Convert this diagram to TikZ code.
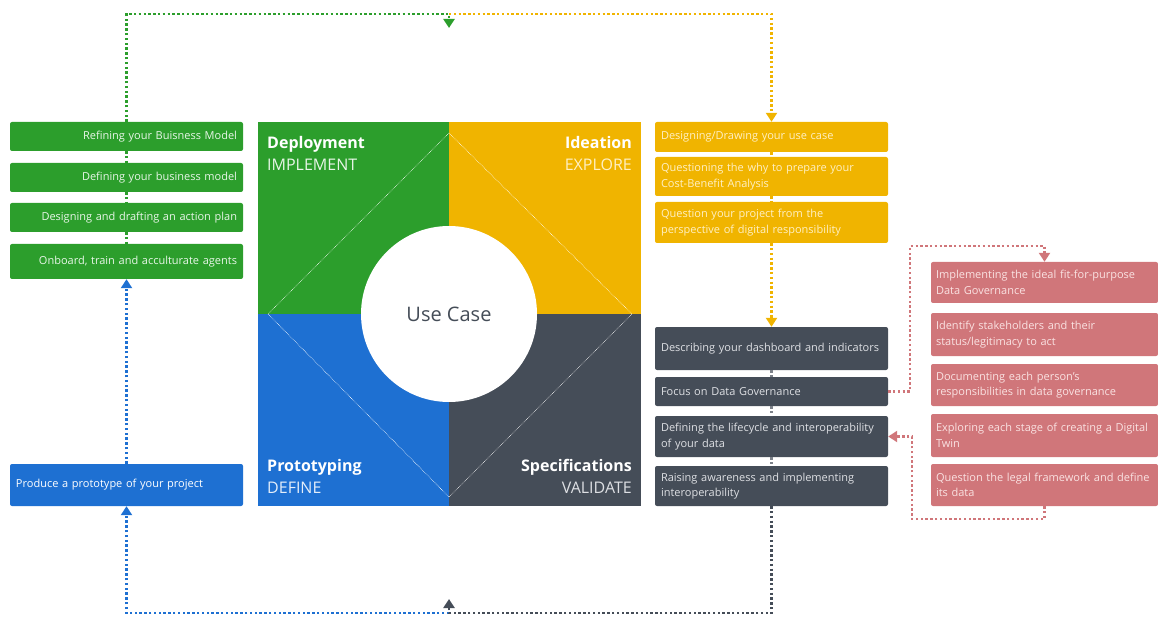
\documentclass[tikz,border=0pt]{standalone}
\usepackage{fontspec}
\setmainfont{Open Sans}
\usepackage{tikz}
\usetikzlibrary{arrows.meta}

\definecolor{dgreen}{RGB}{44,158,44}
\definecolor{dyellow}{RGB}{240,180,0}
\definecolor{dblue}{RGB}{30,112,210}
\definecolor{ddark}{RGB}{69,77,88}
\definecolor{dred}{RGB}{208,118,122}
\definecolor{tgreen}{RGB}{232,246,232}
\definecolor{tyellow}{RGB}{255,240,196}
\definecolor{tdark}{RGB}{222,224,228}
\definecolor{tred}{RGB}{250,226,226}

\tikzset{
  stepbox/.style={rounded corners=2pt, inner sep=6pt, text width=221pt,
    font=\fontsize{11}{15.5}\selectfont},
  greenbox/.style={stepbox, fill=dgreen, text=tgreen, align=right},
  bluebox/.style={stepbox, fill=dblue, text=white, align=left},
  yellowbox/.style={stepbox, fill=dyellow, text=tyellow, align=left},
  darkbox/.style={stepbox, fill=ddark, text=tdark, align=left},
  redbox/.style={stepbox, fill=dred, text=tred, align=left, text width=217pt, inner sep=5pt},
  dots/.style={line width=2.6pt, dash pattern=on 2.4pt off 2.4pt},
  flow/.style={dots, -{Triangle[width=11pt,length=9pt]}},
  phase/.style={font=\fontsize{16}{18}\selectfont\bfseries, inner sep=0pt},
  verb/.style={font=\fontsize{16}{18}\selectfont, inner sep=0pt}
}

\begin{document}
\begin{tikzpicture}[x=1pt,y=1pt,yscale=-1]
\useasboundingbox (0,0) rectangle (1158,617);

%Shape: quadrants
\fill[dgreen] (258,122) rectangle (449,314);
\fill[dyellow] (449,122) rectangle (641,314);
\fill[dblue] (258,314) rectangle (449,506);
\fill[ddark] (449,314) rectangle (641,506);
%Shape: diamond
\coordinate (dtop) at (449,133);
\coordinate (dright) at (632,314);
\coordinate (dbottom) at (449,497);
\coordinate (dleft) at (268,314);
\draw[white, line width=0.6pt, densely dotted] (dtop) -- (dright) -- (dbottom) -- (dleft) -- cycle;
%Shape: Circle
\node[circle, fill=white, minimum size=176pt, inner sep=0pt, text=ddark,
  font=\fontsize{20}{22}\selectfont] (usecase) at (449,314) {Use Case};

% Text Node
\node[phase, text=white, anchor=base west] (deploy) at (267,149) {Deployment};
\node[verb, text=tgreen, anchor=base west] (implement) at (267,171) {IMPLEMENT};
\node[phase, text=white, anchor=base east] (ideation) at (632,149) {Ideation};
\node[verb, text=tyellow, anchor=base east] (explore) at (632,171) {EXPLORE};
\node[phase, text=white, anchor=base west] (proto) at (267,471) {Prototyping};
\node[verb, text=white!88!dblue, anchor=base west] (define) at (267,493) {DEFINE};
\node[phase, text=white, anchor=base east] (specs) at (632,471) {Specifications};
\node[verb, text=tdark, anchor=base east] (validate) at (632,493) {VALIDATE};

% Deployment steps
\node[greenbox, minimum height=29pt] (g1) at (126.5,136.5) {Refining your Buisness Model};
\node[greenbox, minimum height=29pt] (g2) at (126.5,177.5) {Defining your business model};
\node[greenbox, minimum height=29pt] (g3) at (126.5,217.5) {Designing and drafting an action plan};
\node[greenbox, minimum height=35pt] (g4) at (126.5,261.5) {Onboard, train and acculturate agents};
% Prototyping step
\node[bluebox, minimum height=42pt] (b1) at (126.5,485) {Produce a prototype of your project};
% Ideation steps
\node[yellowbox, minimum height=30pt] (y1) at (771.5,137) {Designing/Drawing your use case};
\node[yellowbox, minimum height=39pt] (y2) at (771.5,176.5) {Questioning the why to prepare your\\Cost-Benefit Analysis};
\node[yellowbox, minimum height=41pt] (y3) at (771.5,222.5) {Question your project from the\\perspective of digital responsibility};
% Specifications steps
\node[darkbox, minimum height=43pt] (d1) at (771.5,348.5) {Describing your dashboard and indicators};
\node[darkbox, minimum height=29pt] (d2) at (771.5,391.5) {Focus on Data Governance};
\node[darkbox, minimum height=41pt] (d3) at (771.5,436.5) {Defining the lifecycle and interoperability\\of your data};
\node[darkbox, minimum height=40pt] (d4) at (771.5,486) {Raising awareness and implementing\\interoperability};
% Data Governance steps
\node[redbox, minimum height=41pt] (r1) at (1044.5,282.5) {Implementing the ideal fit-for-purpose\\Data Governance};
\node[redbox, minimum height=43pt] (r2) at (1044.5,334.5) {Identify stakeholders and their\\status/legitimacy to act};
\node[redbox, minimum height=42pt] (r3) at (1044.5,385) {Documenting each person's\\responsibilities in data governance};
\node[redbox, minimum height=43pt] (r4) at (1044.5,435.5) {Exploring each stage of creating a Digital\\Twin};
\node[redbox, minimum height=42pt] (r5) at (1044.5,485) {Question the legal framework and define\\its data};

% Connection
\coordinate (top) at (449,14);
\coordinate (topin) at (449,28);
\coordinate (bot) at (449,613);
\coordinate (botin) at (449,599);
\coordinate (rl) at (910,246);
\coordinate (rb) at (912,519);

\draw[dots, dgreen] (g1.south) -- (g2.north);
\draw[dots, dgreen] (g2.south) -- (g3.north);
\draw[dots, dgreen] (g3.south) -- (g4.north);
\draw[dots, dyellow] (y1.south) -- (y2.north);
\draw[dots, dyellow] (y2.south) -- (y3.north);
\draw[dots, ddark!70] (d1.south) -- (d2.north);
\draw[dots, ddark!70] (d2.south) -- (d3.north);
\draw[dots, ddark!70] (d3.south) -- (d4.north);

\draw[flow, dyellow] (top) -| (y1.north);
\draw[flow, dgreen] (g1.north) |- (top) -- (topin);
\draw[flow, dyellow] (y3.south) -- (d1.north);
\draw[flow, dblue] (bot) -| (b1.south);
\draw[flow, ddark] (d4.south) |- (bot) -- (botin);
\draw[flow, dblue] (b1.north) -- (g4.south);
\draw[flow, dred] (d2.east) -| (rl) -| (r1.north);
\draw[flow, dred] (r5.south) |- (rb) |- (d3.east);

\end{tikzpicture}
\end{document}
